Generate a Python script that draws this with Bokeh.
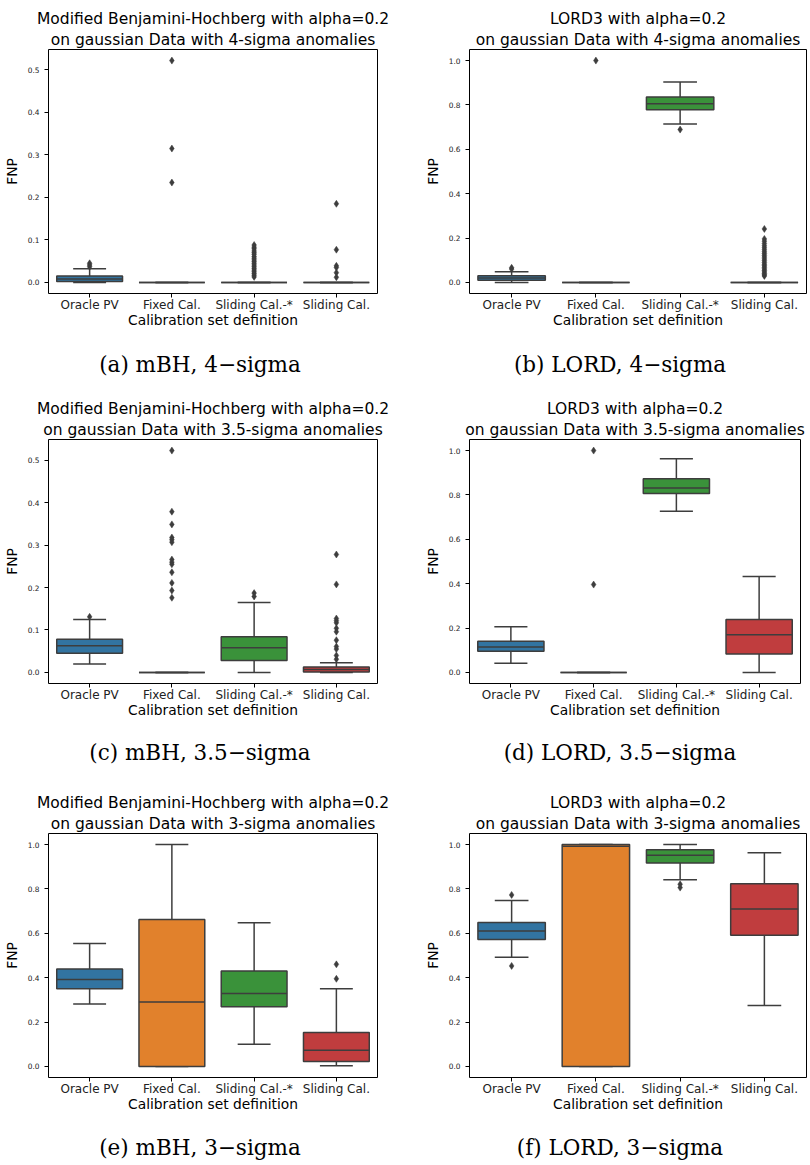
from bokeh.plotting import figure
from bokeh.models import Range1d, FixedTicker, Title, NumeralTickFormatter, ColumnDataSource, Div
from bokeh.layouts import column, row
from bokeh.embed import file_html
from bokeh.resources import INLINE

categories = ["Oracle PV", "Fixed Cal.", "Sliding Cal.-*", "Sliding Cal."]
box_colors = ["#3274a1", "#e1812c", "#3a923a", "#c03d3e"]
x_label = "Calibration set definition"
y_label = "FNP"
yticks_small = [0.0, 0.1, 0.2, 0.3, 0.4, 0.5]
yticks_large = [0.0, 0.2, 0.4, 0.6, 0.8, 1.0]

# (a) mBH, 4-sigma
a_q1 = [0.002, 0.0, 0.0, 0.0]
a_med = [0.008, 0.0, 0.0, 0.0]
a_q3 = [0.015, 0.0, 0.0, 0.0]
a_lo = [0.0, 0.0, 0.0, 0.0]
a_hi = [0.032, 0.0, 0.0, 0.0]
a_out = [[0.037, 0.041, 0.045],
         [0.522, 0.315, 0.235],
         [0.013, 0.017, 0.021, 0.025, 0.029, 0.033, 0.037, 0.041, 0.045, 0.049,
          0.053, 0.057, 0.061, 0.066, 0.070, 0.074, 0.079, 0.083, 0.088],
         [0.185, 0.077, 0.039, 0.035, 0.023, 0.012]]

# (b) LORD, 4-sigma
b_q1 = [0.010, 0.0, 0.778, 0.0]
b_med = [0.020, 0.0, 0.805, 0.0]
b_q3 = [0.030, 0.0, 0.836, 0.0]
b_lo = [0.0, 0.0, 0.714, 0.0]
b_hi = [0.048, 0.0, 0.904, 0.0]
b_out = [[0.060, 0.066],
         [1.0],
         [0.689],
         [0.029, 0.034, 0.040, 0.047, 0.054, 0.061, 0.068, 0.075, 0.082, 0.090,
          0.098, 0.106, 0.114, 0.122, 0.130, 0.138, 0.147, 0.156, 0.165, 0.175,
          0.186, 0.196, 0.241]]

# (c) mBH, 3.5-sigma
c_q1 = [0.045, 0.0, 0.028, 0.001]
c_med = [0.063, 0.0, 0.058, 0.007]
c_q3 = [0.078, 0.0, 0.084, 0.0125]
c_lo = [0.020, 0.0, 0.0, 0.0]
c_hi = [0.125, 0.0, 0.165, 0.023]
c_out = [[0.131],
         [0.523, 0.379, 0.349, 0.318, 0.313, 0.307, 0.266, 0.260, 0.255, 0.236,
          0.211, 0.193, 0.176],
         [0.187, 0.179],
         [0.278, 0.2075, 0.127, 0.122, 0.117, 0.104, 0.096, 0.076, 0.061, 0.055,
          0.040, 0.031]]

# (d) LORD, 3.5-sigma
d_q1 = [0.095, 0.0, 0.806, 0.083]
d_med = [0.114, 0.0, 0.831, 0.170]
d_q3 = [0.141, 0.0, 0.873, 0.2385]
d_lo = [0.041, 0.0, 0.726, 0.0]
d_hi = [0.206, 0.0, 0.963, 0.4326]
d_out = [[], [1.0, 0.396], [], []]

# (e) mBH, 3-sigma
e_q1 = [0.350, 0.0, 0.2695, 0.0225]
e_med = [0.392, 0.290, 0.329, 0.0733]
e_q3 = [0.4386, 0.662, 0.4296, 0.1527]
e_lo = [0.281, 0.0, 0.100, 0.003]
e_hi = [0.554, 1.0, 0.648, 0.350]
e_out = [[], [], [], [0.46, 0.395]]

# (f) LORD, 3-sigma
f_q1 = [0.572, 0.0, 0.917, 0.591]
f_med = [0.611, 0.993, 0.952, 0.710]
f_q3 = [0.649, 1.0, 0.977, 0.824]
f_lo = [0.492, 0.0, 0.841, 0.275]
f_hi = [0.748, 1.0, 1.0, 0.9636]
f_out = [[0.773, 0.453], [], [0.821, 0.806], []]

GRAY = "#3d3d3d"
SANS = "DejaVu Sans"
SERIF = "DejaVu Serif"


def panel(t1, t2, q1, med, q3, lo, hi, out, yticks, w, h, bl, br, bt, bb):
    vals = lo + hi + [v for o in out for v in o]
    vmin, vmax = min(vals), max(vals)
    pad = 0.05 * (vmax - vmin)
    p = figure(width=w, height=h, output_backend="svg", toolbar_location=None,
               x_range=Range1d(-0.5, 3.5), y_range=Range1d(vmin - pad, vmax + pad),
               min_border_left=bl, min_border_right=br,
               min_border_top=bt, min_border_bottom=bb, title=None)
    p.add_layout(Title(text=t2, align="center", text_font=SANS, text_font_size="15.5px",
                       text_font_style="normal", text_color="black", standoff=2), "above")
    p.add_layout(Title(text=t1, align="center", text_font=SANS, text_font_size="15.5px",
                       text_font_style="normal", text_color="black", standoff=0), "above")
    p.grid.visible = False
    p.outline_line_color = "black"
    p.outline_line_width = 1
    p.background_fill_color = "white"
    p.border_fill_color = "white"

    idx = list(range(len(categories)))
    src = ColumnDataSource(dict(
        x=idx, left=[i - 0.4 for i in idx], right=[i + 0.4 for i in idx],
        cl=[i - 0.2 for i in idx], cr=[i + 0.2 for i in idx],
        q1=q1, med=med, q3=q3, lo=lo, hi=hi, color=box_colors))
    # whiskers and caps
    p.segment(x0="x", y0="q3", x1="x", y1="hi", source=src, line_color=GRAY, line_width=1.5)
    p.segment(x0="x", y0="lo", x1="x", y1="q1", source=src, line_color=GRAY, line_width=1.5)
    p.segment(x0="cl", y0="hi", x1="cr", y1="hi", source=src, line_color=GRAY, line_width=1.5)
    p.segment(x0="cl", y0="lo", x1="cr", y1="lo", source=src, line_color=GRAY, line_width=1.5)
    # boxes
    p.quad(left="left", right="right", bottom="q1", top="q3", source=src,
           fill_color="color", line_color=GRAY, line_width=1.5)
    # medians
    p.segment(x0="left", y0="med", x1="right", y1="med", source=src,
              line_color=GRAY, line_width=1.5)
    # outliers
    ox, oy = [], []
    for i, o in enumerate(out):
        ox += [i] * len(o)
        oy += o
    p.scatter(ox, oy, marker="diamond", size=7, fill_color=GRAY, line_color=GRAY,
              line_width=0.5)

    # axes
    p.xaxis.ticker = FixedTicker(ticks=idx)
    p.xaxis.major_label_overrides = {i: c for i, c in enumerate(categories)}
    p.yaxis.ticker = FixedTicker(ticks=yticks)
    p.yaxis.formatter = NumeralTickFormatter(format="0.0")
    for ax in (p.xaxis[0], p.yaxis[0]):
        ax.axis_line_color = None
        ax.major_tick_line_color = "black"
        ax.major_tick_out = 4
        ax.major_tick_in = 0
        ax.minor_tick_line_color = None
        ax.major_label_text_font = SANS
        ax.major_label_text_color = "#222222"
        ax.axis_label_text_font = SANS
        ax.axis_label_text_font_style = "normal"
        ax.axis_label_text_color = "black"
        ax.axis_label_text_font_size = "13.8px"
    p.xaxis.major_label_text_font_size = "12px"
    p.xaxis.major_label_standoff = 0
    p.xaxis.axis_label = x_label
    p.xaxis.axis_label_standoff = -3
    p.yaxis.major_label_text_font_size = "7.4px"
    p.yaxis.major_label_standoff = 5
    p.yaxis.axis_label = y_label
    p.yaxis.axis_label_standoff = 5
    return p


def caption(text, h, pad_top, pad_left, pad_right):
    html = ('<div style="display:block;width:405px;box-sizing:border-box;'
            'font-family:\'DejaVu Serif\';font-size:21.5px;line-height:24px;'
            'color:black;text-align:center;white-space:nowrap;'
            f'padding-top:{pad_top}px;padding-left:{pad_left}px;padding-right:{pad_right}px;">'
            f'{text}</div>')
    return Div(text=html, width=405, height=h, margin=0,
               styles={"width": "405px", "text-align": "center"})


pa = panel("Modified Benjamini-Hochberg with alpha=0.2",
           "on gaussian Data with 4-sigma anomalies",
           a_q1, a_med, a_q3, a_lo, a_hi, a_out, yticks_small,
           405, 333, 48, 28, 49, 39)
pb = panel("LORD3 with alpha=0.2",
           "on gaussian Data with 4-sigma anomalies",
           b_q1, b_med, b_q3, b_lo, b_hi, b_out, yticks_large,
           405, 333, 64, 4, 41, 40)
pc = panel("Modified Benjamini-Hochberg with alpha=0.2",
           "on gaussian Data with 3.5-sigma anomalies",
           c_q1, c_med, c_q3, c_lo, c_hi, c_out, yticks_small,
           405, 337, 48, 28, 54, 39)
pd_ = panel("LORD3 with alpha=0.2",
            "on gaussian Data with 3.5-sigma anomalies",
            d_q1, d_med, d_q3, d_lo, d_hi, d_out, yticks_large,
            405, 337, 64, 10, 50, 39)
pe = panel("Modified Benjamini-Hochberg with alpha=0.2",
           "on gaussian Data with 3-sigma anomalies",
           e_q1, e_med, e_q3, e_lo, e_hi, e_out, yticks_large,
           405, 342, 48, 28, 58, 39)
pf = panel("LORD3 with alpha=0.2",
           "on gaussian Data with 3-sigma anomalies",
           f_q1, f_med, f_q3, f_lo, f_hi, f_out, yticks_large,
           405, 342, 64, 4, 50, 40)

ca = caption("(a) mBH, 4\u2212sigma", 52, 20, 0, 5)
cb = caption("(b) LORD, 4\u2212sigma", 52, 20, 25, 0)
cc = caption("(c) mBH, 3.5\u2212sigma", 53, 19, 0, 5)
cd = caption("(d) LORD, 3.5\u2212sigma", 53, 19, 25, 0)
ce = caption("(e) mBH, 3\u2212sigma", 48, 19, 0, 5)
cf = caption("(f) LORD, 3\u2212sigma", 48, 19, 25, 0)

layout = column(row(pa, pb, spacing=0), row(ca, cb, spacing=0),
                row(pc, pd_, spacing=0), row(cc, cd, spacing=0),
                row(pe, pf, spacing=0), row(ce, cf, spacing=0),
                spacing=0)
open("out.html", "w").write(file_html(layout, INLINE))
